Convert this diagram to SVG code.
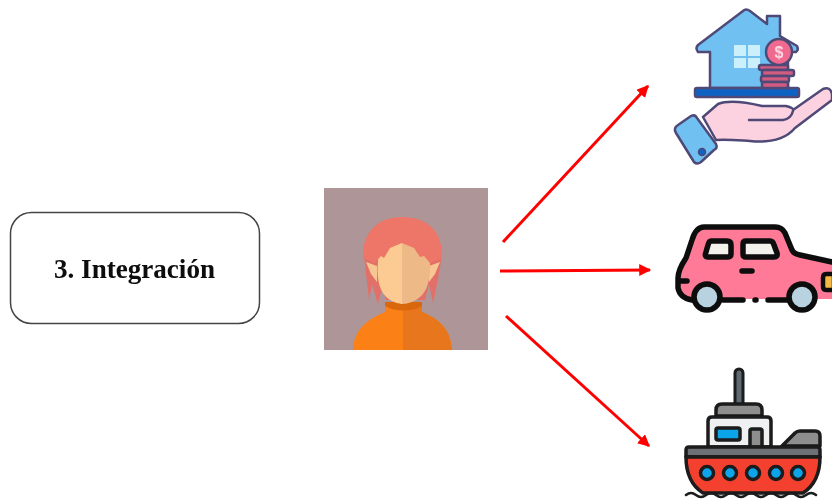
<svg xmlns="http://www.w3.org/2000/svg" width="832" height="502" viewBox="0 0 832 502">
<style>
.lbl{font-family:"Liberation Serif","Times New Roman",serif;font-weight:bold;font-size:28px;fill:#0a0a0a}
.arrow{stroke:#fe0000;stroke-width:3;fill:none;marker-end:url(#ah)}
.k{stroke:#0c0c0c;stroke-width:5.500;stroke-linejoin:round;stroke-linecap:round}
.d{stroke:#1a1a1a;stroke-width:3.500;stroke-linejoin:round;stroke-linecap:round}
.p{stroke:#4f4a78;stroke-width:2.500;stroke-linejoin:round;stroke-linecap:round}
</style>
<defs>
<marker id="ah" markerWidth="5" markerHeight="5" refX="3.600" refY="2" orient="auto"><path d="M0 0L4 2L0 4Z" fill="#fe0000"/></marker>
<filter id="b" x="-5%" y="-5%" width="110%" height="110%"><feGaussianBlur stdDeviation="0.7"/></filter>
<filter id="t" x="-5%" y="-10%" width="110%" height="120%"><feGaussianBlur stdDeviation="0.35"/></filter>
</defs>
<rect width="832" height="502" fill="#fff"/>
<g id="node-integracion">
<rect x="10.500" y="212.500" width="249" height="111" rx="21" fill="#fff" stroke="#444" stroke-width="1.500"/>
<text class="lbl" x="54" y="278" textLength="161" lengthAdjust="spacingAndGlyphs" filter="url(#t)">3. Integración</text>
</g>
<g id="node-person" filter="url(#b)">
<rect x="324" y="188" width="164" height="162" fill="#ae9698"/>
<path d="M364 256L369 300L372 284L378 304L382 288L386 300H420L425 300L429 284L433 303L437 284L442 256Z" fill="#e36f68"/>
<path d="M366 262L377 266V282L371 274Z M440 262L429 266V282L435 274Z" fill="#f7c692"/>
<path d="M353 350C354 330 366 320 385 312V302H422V312C442 320 451 332 452 350Z" fill="#fb8018"/>
<path d="M403 302H422V312C442 320 451 332 452 350H403Z" fill="#e8761a"/>
<path d="M385 306C395 312 412 312 422 306V302H385Z" fill="#d9670f"/>
<path d="M402 240H378V262C376 282 381 296 392 301C398 304 402 304 402 304Z" fill="#fccb94"/>
<path d="M402 240H430V262C431 282 426 296 414 301C408 304 402 304 402 304Z" fill="#ecb987"/>
<path d="M363 258C362 232 378 217 402 217C428 217 443 232 442 258L430 263L424 256L420 257L414 248L402 243L390 248L384 258L381 256L375 263Z" fill="#ee7668"/>
</g>
<g id="connectors">
<line class="arrow" x1="503" y1="242" x2="648" y2="86"/>
<line class="arrow" x1="500" y1="271" x2="650" y2="270"/>
<line class="arrow" x1="506" y1="316" x2="649" y2="446"/>
</g>
<g id="node-house" filter="url(#b)">
<path class="p" d="M710 88V52H698Q695 48 698 45L743 11Q746 8 750 11L767 24V16H780V36L797 46Q799 50 796 52H788V88Z" fill="#6fc1f2"/>
<g fill="#cbeffb"><rect x="734" y="45" width="12" height="11"/><rect x="748" y="45" width="12" height="11"/><rect x="734" y="58" width="12" height="10"/><rect x="748" y="58" width="12" height="10"/></g>
<rect class="p" x="695" y="88" width="104" height="9" rx="2" fill="#0c62c4"/>
<g class="p" fill="#d05d80"><rect x="759" y="65" width="29" height="5" rx="2"/><rect x="762" y="70" width="32" height="6" rx="2"/><rect x="761" y="76" width="28" height="6" rx="2"/><rect x="762" y="82" width="26" height="6" rx="2"/></g>
<circle class="p" cx="779" cy="52" r="13" fill="#f06a8f"/>
<text x="779" y="58" text-anchor="middle" font-family="Liberation Sans,sans-serif" font-size="16" font-weight="bold" fill="#ffd6e2">$</text>
<path class="p" d="M703 117L718 104C728 100 745 102 762 106H786Q794 108 793 110L823 89Q830 86 832 94V100L795 128C785 140 770 143 750 141C735 140 725 139 716 140Z" fill="#fdd2e0"/>
<path class="p" d="M749 120H783Q791 119 793 111" fill="none"/>
<path class="p" d="M678 125L691 116Q695 114 697 118L716 144Q718 148 714 150L701 162Q697 165 694 162L676 133Q673 128 678 125Z" fill="#6fc1f2"/>
<circle cx="702" cy="152" r="3.500" fill="#0c62c4" stroke="#4f4a78" stroke-width="1.500"/>
</g>
<g id="node-car" filter="url(#b)">
<path d="M704 227H775Q782 227 785 233L792 250Q794 254 800 255L832 262V299H692Q680 298 678 288V278Q678 270 686 258L692 240Q696 227 704 227Z" fill="#fe7a97"/>
<path class="k" d="M832 262L800 255Q794 254 792 250L785 233Q782 227 775 227H704Q696 227 692 240L686 258Q678 270 678 278V288Q680 298 692 300H700M723 300H743M755 300H756M768 300H788" fill="none"/>
<path class="k" d="M711 241H727Q731 241 731 245V254Q731 257 727 257H708Q704 257 706 252L708 245Q709 241 711 241Z" fill="#f3f1ec"/>
<path class="k" d="M746 241H770Q773 241 774 245L777 253Q778 257 774 257H746Q743 257 743 254V244Q743 241 746 241Z" fill="#f3f1ec"/>
<path class="k" d="M742 271H752M680 281H687" fill="none"/>
<path d="M834 274H826Q823 274 823 278V286Q823 290 826 290H834Z" fill="#f4b942" stroke="#0c0c0c" stroke-width="4.500"/>
<circle class="k" cx="707" cy="297" r="13" fill="#b9d2df"/>
<circle class="k" cx="802" cy="297" r="13" fill="#b9d2df"/>
</g>
<g id="node-ship" filter="url(#b)">
<path d="M739 404V373" stroke="#1a1a1a" stroke-width="11" stroke-linecap="round" fill="none"/>
<path d="M739 404V373" stroke="#5e6a73" stroke-width="5" stroke-linecap="round" fill="none"/>
<path class="d" d="M716 416V410Q716 404 722 404H756Q762 404 762 410V416Z" fill="#8e8e8e"/>
<path class="d" d="M708 447V421Q708 417 712 417H767Q771 417 771 421V447Z" fill="#eef0f1"/>
<rect class="d" x="716" y="428" width="24" height="12" rx="2" fill="#0ea5ea"/>
<path class="d" d="M750 447V431Q750 429 752 429H760Q762 429 762 431V447Z" fill="#8e8e8e"/>
<path class="d" d="M782 446L795 433Q797 431 800 431H815Q820 431 820 436V446Z" fill="#8e8e8e"/>
<path class="d" d="M686 457V450Q686 447 689 447H817Q820 447 820 450V457Z" fill="#6d7075"/>
<path class="d" d="M686 457H820Q820 482 803 493H703Q686 482 686 457Z" fill="#f4402e"/>
<g fill="#0ea5ea" stroke="#1a1a1a" stroke-width="3.500"><circle cx="707" cy="473" r="6.500"/><circle cx="730" cy="473" r="6.500"/><circle cx="753" cy="473" r="6.500"/><circle cx="776" cy="473" r="6.500"/><circle cx="798" cy="473" r="6.500"/></g>
<path d="M686 495Q691 491 696 495T706 495T716 495T726 495T736 495T746 495T756 495T766 495T776 495T786 495T796 495T806 495T816 495" fill="none" stroke="#1a1a1a" stroke-width="2.500" stroke-linecap="round"/>
</g>
</svg>
